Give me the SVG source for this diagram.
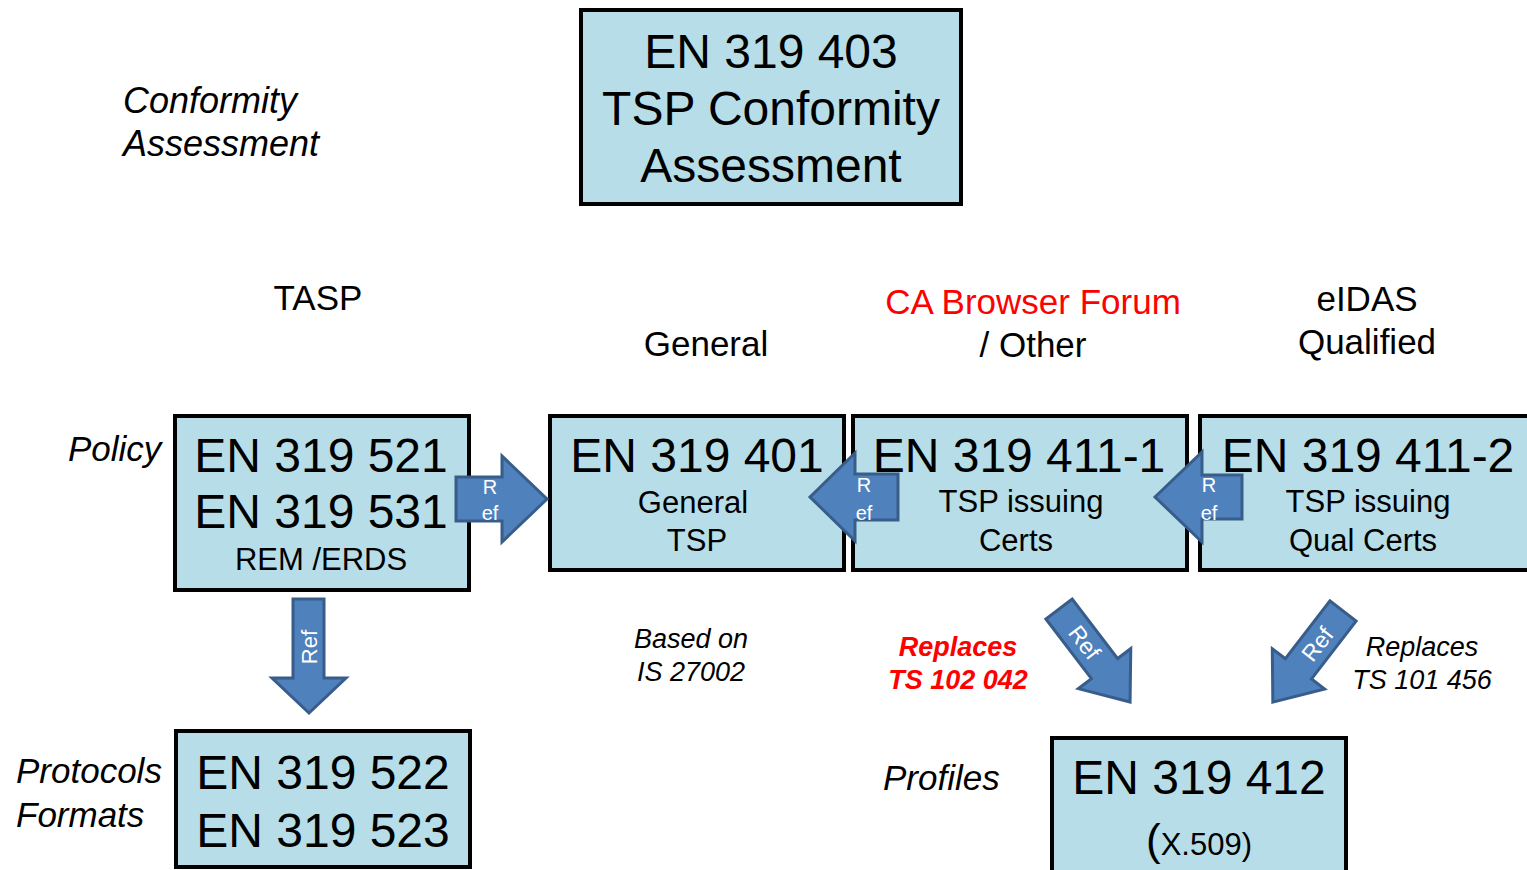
<svg xmlns="http://www.w3.org/2000/svg" width="1527" height="870" viewBox="0 0 1527 870">
<style>
.box{fill:#B7DEE8;stroke:#000;stroke-width:4}
.t{font-family:"Liberation Sans",Arial,sans-serif;fill:#000}
.big{font-size:48px;text-anchor:middle}
.sub{font-size:31px;text-anchor:middle}
.lbl{font-size:35px}
.it{font-style:italic}
.sm{font-size:27px}
.arr{fill:#4F81BD;stroke:#385D8A;stroke-width:3;stroke-linejoin:miter}
.at{font-family:"Liberation Sans",Arial,sans-serif;fill:#fff;font-size:20px;text-anchor:middle}
</style>
<rect width="1527" height="870" fill="#fff"/>

<g id="labels">
<text class="t it" x="123" y="113" style="font-size:36px">Conformity</text>
<text class="t it" x="123" y="156" style="font-size:36px">Assessment</text>
<text class="t lbl" x="318" y="310" text-anchor="middle">TASP</text>
<text class="t lbl" x="706" y="356" text-anchor="middle">General</text>
<text class="t lbl" x="1033" y="314" text-anchor="middle" style="fill:#FF0000">CA Browser Forum</text>
<text class="t lbl" x="1033" y="357" text-anchor="middle">/ Other</text>
<text class="t lbl" x="1367" y="311" text-anchor="middle">eIDAS</text>
<text class="t lbl" x="1367" y="354" text-anchor="middle">Qualified</text>
<text class="t lbl it" x="68" y="461">Policy</text>
<text class="t lbl it" x="16" y="783">Protocols</text>
<text class="t lbl it" x="16" y="827">Formats</text>
<text class="t lbl it" x="883" y="790">Profiles</text>
<text class="t sm it" x="691" y="648" text-anchor="middle">Based on</text>
<text class="t sm it" x="691" y="681" text-anchor="middle">IS 27002</text>
<text class="t sm it" x="958" y="656" text-anchor="middle" font-weight="bold" style="fill:#FF0000">Replaces</text>
<text class="t sm it" x="958" y="689" text-anchor="middle" font-weight="bold" style="fill:#FF0000">TS 102 042</text>
<text class="t sm it" x="1422" y="656" text-anchor="middle">Replaces</text>
<text class="t sm it" x="1422" y="689" text-anchor="middle">TS 101 456</text>
</g>

<g id="n403">
<rect class="box" x="581" y="10" width="380" height="194"/>
<text class="t big" x="771" y="68">EN 319 403</text>
<text class="t big" x="771" y="125">TSP Conformity</text>
<text class="t big" x="771" y="182">Assessment</text>
</g>

<g id="n521">
<rect class="box" x="175" y="416" width="294" height="174"/>
<text class="t big" x="321" y="472">EN 319 521</text>
<text class="t big" x="321" y="528">EN 319 531</text>
<text class="t sub" x="321" y="570">REM /ERDS</text>
</g>

<g id="n401">
<rect class="box" x="550" y="416" width="294" height="154"/>
<text class="t big" x="697" y="472">EN 319 401</text>
<text class="t sub" x="693" y="513">General</text>
<text class="t sub" x="697" y="551">TSP</text>
</g>

<g id="n411-1">
<rect class="box" x="853" y="416" width="334" height="154"/>
<text class="t big" x="1019" y="472">EN 319 411-1</text>
<text class="t sub" x="1021" y="512">TSP issuing</text>
<text class="t sub" x="1016" y="551">Certs</text>
</g>

<g id="n411-2">
<rect class="box" x="1200" y="416" width="340" height="154"/>
<text class="t big" x="1368" y="472">EN 319 411-2</text>
<text class="t sub" x="1368" y="512">TSP issuing</text>
<text class="t sub" x="1363" y="551">Qual Certs</text>
</g>

<g id="n522">
<rect class="box" x="176" y="731" width="294" height="136"/>
<text class="t big" x="323" y="789">EN 319 522</text>
<text class="t big" x="323" y="847">EN 319 523</text>
</g>

<g id="n412">
<rect class="box" x="1052" y="738" width="294" height="145"/>
<text class="t big" x="1199" y="794">EN 319 412</text>
<text class="t" x="1199" y="855" text-anchor="middle"><tspan font-size="44px">(</tspan><tspan font-size="31px">X.509)</tspan></text>
</g>

<g id="connectors">
<polygon class="arr" points="456,477 502,477 502,456 547,499 502,542 502,521 456,521"/>
<text class="at" x="490" y="494">R</text>
<text class="at" x="490" y="520">ef</text>

<polygon class="arr" points="810,497 855,453 855,474 898,474 898,520 855,520 855,541"/>
<text class="at" x="864" y="492">R</text>
<text class="at" x="864" y="520">ef</text>

<polygon class="arr" points="1155,497 1202,452 1202,475 1242,475 1242,519 1202,519 1202,542"/>
<text class="at" x="1209" y="492">R</text>
<text class="at" x="1209" y="520">ef</text>

<polygon class="arr" points="293,599 324,599 324,678 346,678 309,713 272,678 293,678"/>
<text class="at" transform="translate(317,647) rotate(-90)" style="font-size:22px">Ref</text>

<g transform="translate(1059,609) rotate(52.6)">
<polygon class="arr" points="0,-16.5 75,-16.5 75,-33 117,0 75,33 75,16.5 0,16.5"/>
<text class="at" x="42" y="8" style="font-size:23px">Ref</text>
</g>

<g transform="translate(1343,611) rotate(127.6)">
<polygon class="arr" points="0,-16.5 73,-16.5 73,-33 115,0 73,33 73,16.5 0,16.5"/>
<text class="at" x="42" y="8" style="font-size:23px" transform="rotate(180 42 0)">Ref</text>
</g>
</g>
</svg>
